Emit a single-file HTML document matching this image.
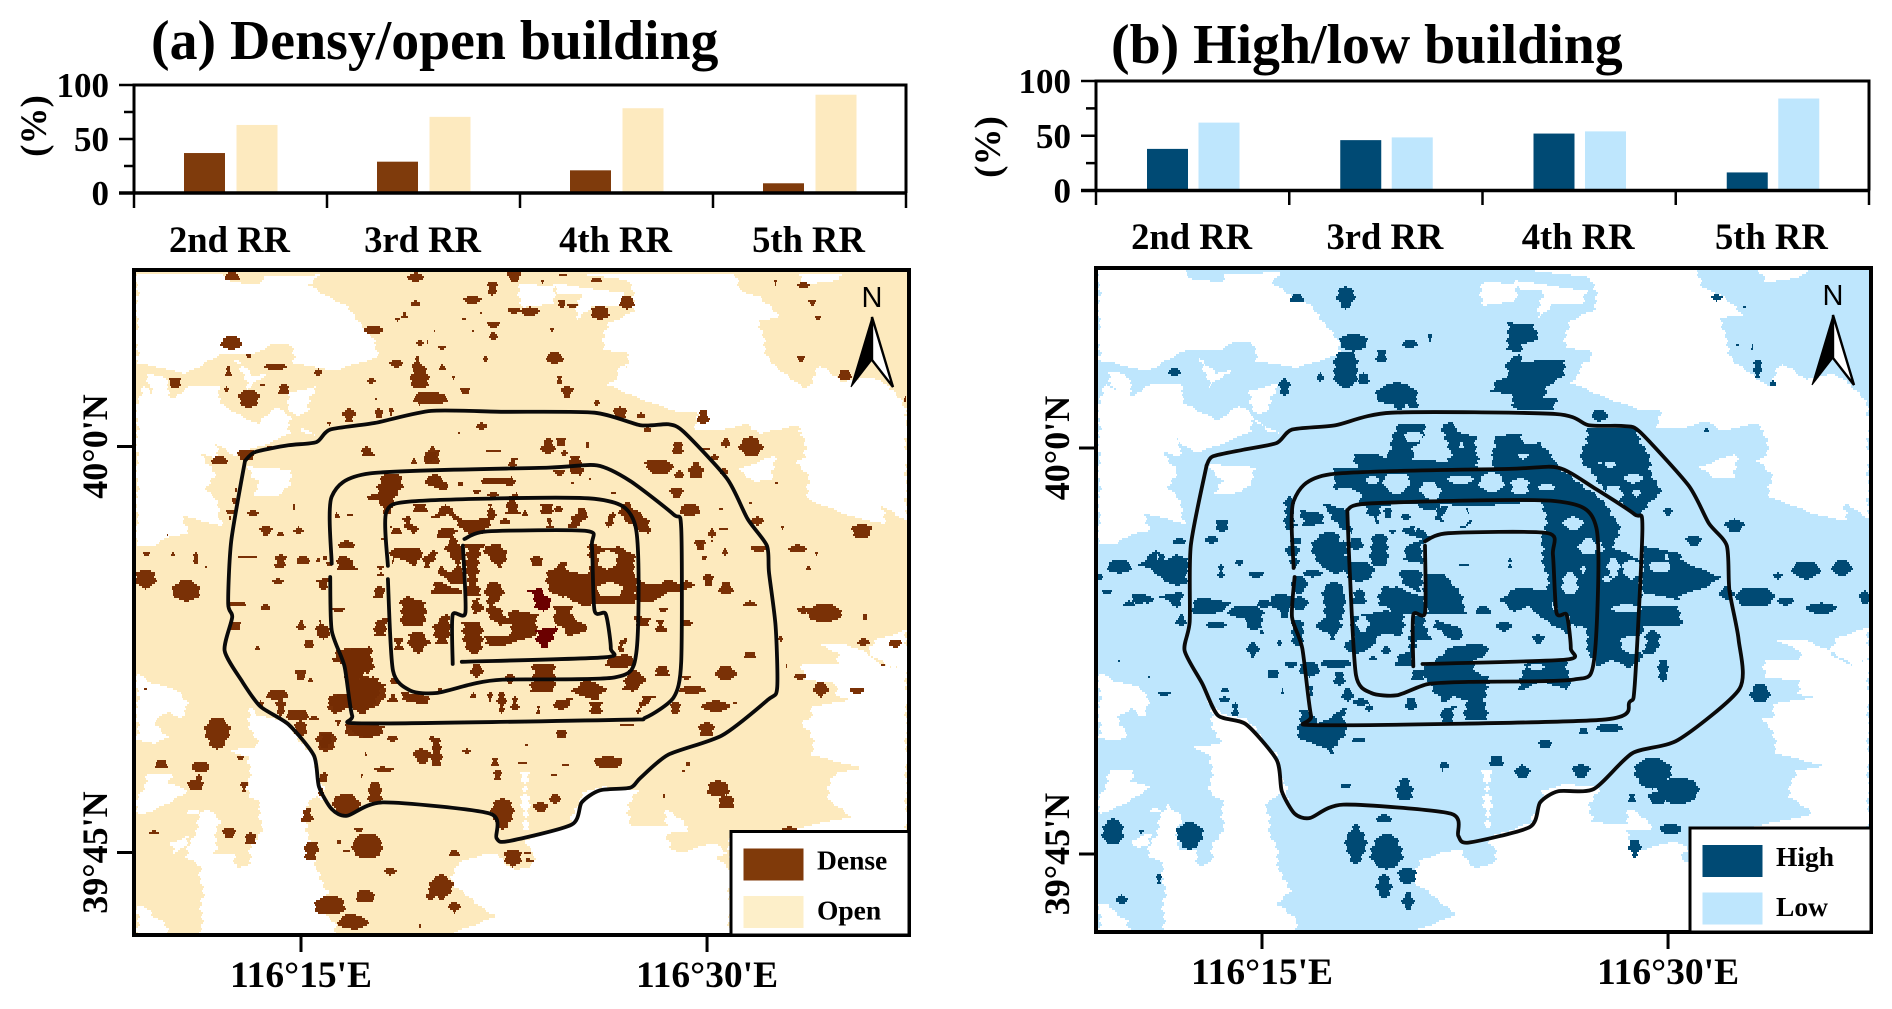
<!DOCTYPE html>
<html lang="en">
<head>
<meta charset="utf-8">
<title>Densy/open and high/low building</title>
<style>
html,body{margin:0;padding:0;background:#fff;}
#fig{display:block;width:1892px;height:1009px;}
text{font-family:"Liberation Serif",serif;font-weight:bold;fill:#000;}
.sans{font-family:"Liberation Sans",sans-serif;font-weight:normal;}
</style>
</head>
<body>
<svg id="fig" xmlns="http://www.w3.org/2000/svg" width="1892" height="1009" viewBox="0 0 1892 1009">
<defs>
<clipPath id="clip-a"><rect x="134" y="270" width="775" height="665"/></clipPath>
<clipPath id="clip-b"><rect x="1096" y="268" width="775" height="664"/></clipPath>
</defs>
<rect x="0" y="0" width="1892" height="1009" fill="#fff"/>
<text x="151" y="59" font-size="55.8">(a) Densy/open building</text>
<text x="1111" y="63" font-size="55.8">(b) High/low building</text>
<g id="layer-a-map" clip-path="url(#clip-a)"></g>
<g id="layer-b-map" clip-path="url(#clip-b)"></g>
<g id="layer-charts"></g>
<g id="layer-frames"></g>
</svg>
<script>
// ---------- bar chart data ----------
const categories = ["2nd RR", "3rd RR", "4th RR", "5th RR"];
const denseShare = [37, 29, 21, 9];
const openShare = [63, 70.5, 78.5, 91];
const highShare = [38, 46, 52, 16.5];
const lowShare = [62, 48.5, 54, 84];
const yTickValues = [0, 25, 50, 75, 100];
const yTickLabels = ["0", "", "50", "", "100"];
const mapLonTicks = [15, 30];
const mapLonLabels = ["116°15'E", "116°30'E"];
const mapLatTicks = [0, -15];
const mapLatLabels = ["40°0'N", "39°45'N"];

// ---------- map data in survey-sheet grid units ----------
const voidsNorthwest = [
 [8,10,265,10,280,35,380,45,395,20,550,15,525,45,630,105,700,180,740,260,600,300,480,280,470,225,410,225,370,250,270,250,210,280,150,310,50,285,8,280],
 [8,395,30,350,60,375,35,310,90,320,110,385,170,350,250,350,270,410,320,440,370,460,430,415,465,440,470,490,400,520,340,540,300,560,240,510,260,580,205,550,240,610,220,660,240,680,270,770,230,760,150,740,160,790,100,800,60,830,8,830],
 [280,250,360,320,400,310,340,360,320,280],
 [460,370,545,350,520,420,490,440,460,410],
 [340,590,480,600,470,640,430,675,360,680,380,640,350,620],
 [480,460,560,500,510,490]
];
const voidsNortheast = [
 [160,10,640,10,660,60,720,80,780,145,720,150,730,220,760,290,860,355,900,290,970,335,1050,320,1100,340,1160,420,1160,750,1090,710,1090,760,1000,740,860,690,870,630,830,580,860,560,840,470,810,470,720,490,680,460,600,480,530,480,530,425,480,430,400,400,260,345,330,290,320,250,250,240,260,160,345,125,340,90,330,30],
 [0,40,100,50,100,100,0,115],
 [100,40,320,70,300,110,210,110,170,150,180,70,110,70],
 [830,10,975,10,960,30,850,45],
 [650,600,760,560,760,630,700,635],
 [290,290,330,280,320,320,290,320]
];
const voidsSoutheast = [
 [1160,60,1120,90,1060,60,1050,40,970,10,890,10,950,40,955,70,850,70,850,120,945,130,955,170,1000,180,870,200,870,240,840,245,870,270,880,345,1025,385,940,400,920,480,1000,530,800,570,630,570,630,880,1160,880],
 [1160,-30,1060,0,1050,40,1120,90,1160,60],
 [350,450,320,520,330,555,440,560,440,510,480,540,515,575,440,580,450,630,480,640,580,610,620,640,590,650,630,685,630,880,-205,882,-75,828,-205,735,-190,668,-105,641,-67,640,-20,690,30,680,45,640,15,600,150,555,185,460,250,440],
 [6,395,22,395,26,570,10,570]
];
const voidsSouthwest = [
 [340,190,375,225,450,245,540,350,560,430,580,490,545,470,510,510,525,590,545,650,555,720,590,760,540,800,610,850,600,880,200,880,205,780,200,680,155,655,195,540,215,500,255,540,240,640,300,640,310,685,345,670,350,630,385,560,375,490,345,470,345,350,280,330,370,320,345,240],
 [10,530,60,510,170,450,105,430,110,400,45,400,10,480],
 [10,800,30,800,60,830,100,850,100,880,10,880],
 [10,100,50,130,130,150,165,185,140,235,105,210,60,240,100,290,60,310,10,300],
 [165,510,190,510,190,525,165,525],
 [105,610,160,590,160,620,120,640]
];
const densePatchesCore = [
 [185,70,245,70,245,105,225,140,225,170,200,195,170,150,135,155,140,140,175,130],
 [310,90,345,75,365,85,390,110,390,122,350,118,315,100],
 [487,85,585,80,580,108,525,100,490,100],
 [405,95,435,95,435,110,410,110],
 [270,160,325,165,320,185,285,185],
 [330,205,375,165,435,210,500,205,510,165,530,200,505,230,475,255,435,245,405,215,380,195,345,205],
 [555,155,590,125,600,195,560,190],
 [665,160,695,165,695,200,700,235,680,235,680,195,665,190],
 [745,230,785,165,805,190,780,220,760,235],
 [855,205,880,185,890,205,870,235,860,235],
 [895,165,925,155,980,210,1000,260,950,240,900,190],
 [245,205,270,195,280,225,300,240,280,250,250,225],
 [210,230,245,235,245,255,215,255],
 [350,255,375,230,410,240,395,262,360,265],
 [225,295,300,295,300,330,290,360,270,345,230,320,215,345,215,300],
 [310,320,340,300,360,310,330,340,320,355],
 [380,295,395,250,425,290,430,400,400,400,345,360,365,345,390,365,405,360,395,320],
 [435,280,495,280,470,345,480,440,440,440,440,340],
 [495,290,540,280,560,320,550,355,525,350,500,310],
 [338,400,360,395,395,410,420,415,420,430,370,435,340,430],
 [810,265,840,295,900,290,945,320,950,460,820,460,800,470,770,460,720,440,690,430,680,365,735,330,750,365,800,375,810,330],
 [950,385,1000,405,1025,400,1040,385,1075,400,1100,385,1130,405,1080,425,1030,430,1000,455,950,455],
 [490,420,520,395,555,420,545,450,530,470,560,510,580,480,650,495,655,550,620,565,585,575,530,590,500,580,500,560,570,555,570,520,535,530,510,500,505,470],
 [700,470,755,465,760,500,805,540,770,550,745,560,730,530,700,515],
 [425,515,475,515,495,535,485,555,480,610,445,610,435,565,425,545],
 [245,450,265,438,285,450,310,455,325,490,305,530,250,530,240,490],
 [270,550,305,545,325,575,295,615,270,590],
 [220,565,250,565,250,600,225,600],
 [160,520,205,500,200,560,160,560],
 [345,530,370,490,390,495,385,585,345,580],
 [450,450,480,445,490,480,465,490],
 [50,320,90,320,105,360,60,360],
 [170,345,190,350,190,380,175,375],
 [165,405,195,410,190,440,165,445],
 [-10,390,30,385,10,420],
 [0,510,30,550,10,570,-10,550],
 [30,630,70,600,150,590,165,650,130,670,110,690,160,680,195,705,180,730,130,800,90,770,45,790,25,740,80,730,80,650],
 [80,825,190,830,190,850,145,870,90,845],
 [220,685,235,700,215,710],
 [245,725,290,735,330,750,320,765,265,755],
 [210,735,230,735,225,755,210,755],
 [0,850,45,855,20,895,0,890],
 [335,860,360,870,365,900,335,900],
 [640,640,700,640,710,690,695,725,635,725,635,690],
 [750,720,800,690,865,715,830,750,770,735],
 [700,750,760,745,745,775,725,785,700,775],
 [815,755,840,755,840,790,815,790],
 [860,630,920,610,945,640,910,655,865,650],
 [905,720,935,655,970,680,970,700,945,725],
 [945,780,970,740,1005,740,975,770,955,790],
 [1020,645,1040,650,1040,680,1015,675],
 [1010,510,1030,510,1035,545,1015,545],
 [950,500,985,505,985,530,950,525],
 [885,590,920,560,910,615],
 [310,10,365,0,345,30,320,45],
 [125,0,155,0,155,20,135,15],
 [750,20,780,20,785,80,760,70],
 [565,40,585,25,585,50],
 [70,275,100,275,100,295,70,290],
 [555,215,12,10],[520,135,12,8],[470,125,8,6],[650,335,15,15],[880,128,7,5],[715,178,12,10],[615,190,5,8],[420,100,14,7],[90,195,10,5],[50,195,8,8],[55,480,15,5],[15,325,6,8],[470,665,15,22],[510,740,10,18],[545,760,10,35],[585,760,10,20],[655,780,8,15],[570,685,10,15],[360,715,6,12],[460,735,10,12],[1030,480,8,8],[1100,520,10,10],[1165,390,10,20],[1140,285,10,15],[1155,325,5,7],[725,850,14,12]
];
const openGapsCore = [[862,330,32,28],[870,418,35,22],[738,450,16,12],[790,345,14,14],[540,462,14,10]];
const redPatches = [
 [618,420,665,415,695,455,670,485,650,470,640,440],
 [650,540,710,530,705,565,675,595,645,575]
];
const densePatchesNorthwest = [
 [295,20,20,12],[845,22,25,15],[1075,58,15,22],[1015,92,25,12],[845,100,10,10],[812,135,11,12],[790,148,10,6],[718,180,25,15],[292,220,28,20],[345,256,7,7],[425,290,27,11],[553,307,13,12],[123,338,22,15],[283,305,12,15],[278,355,7,9],[345,385,33,28],[450,358,20,15],[386,345,5,6],[787,281,18,12],[857,320,28,35],[850,280,12,20],[925,233,11,8],[925,292,7,10],[959,325,7,8],[712,333,10,8],[993,363,12,11],[890,385,50,18],[857,388,15,20],[645,437,20,22],[735,430,10,17],[771,427,8,11],[726,394,6,10],[586,460,10,7],[1043,470,12,12],[697,544,16,16],[840,574,12,9],[895,557,22,28],[1078,542,15,5],[1135,580,7,15],[1140,20,18,15],[1078,165,20,10],[1077,200,8,14],[1140,122,18,9],[1040,130,4,4],[1018,187,7,6],[990,148,8,5],[858,220,8,8],[880,217,5,5],[901,182,6,3],[1055,265,4,10],[615,737,9,8],[647,737,8,3],[257,570,27,12],[337,555,22,18],[406,530,8,5],[305,660,3,4],[300,692,6,8],[292,725,10,8],[288,745,3,5],[357,727,10,10],[396,782,13,14],[440,790,10,8],[497,775,6,4],[638,823,20,11],[343,861,22,5],[432,884,15,8],[507,871,18,11],[553,868,12,6],[38,851,11,8],[116,854,7,6],[185,865,5,18],[215,889,4,4],[585,880,8,6],[100,797,4,3],[480,710,3,8],[975,488,4,4],[1150,492,7,3],[805,564,7,3],[745,808,5,5]
];
const densePatchesNortheast = [
 [130,14,12,5],[68,35,12,5],[230,30,18,5],[125,100,14,12],[157,107,10,8],[30,125,30,15],[240,130,25,20],[320,100,22,20],[96,178,6,6],[104,265,22,17],[118,330,10,15],[141,367,15,18],[230,397,5,10],[300,428,17,18],[363,437,14,10],[383,477,13,10],[550,443,20,22],[767,37,9,9],[850,47,12,10],[877,99,9,11],[893,145,10,8],[843,265,9,10],[975,316,17,15],[1155,385,6,10],[1025,785,30,22],[693,530,30,30],[617,519,15,13],[557,538,8,5],[585,563,8,10],[612,603,10,10],[473,535,20,18],[420,590,42,22],[390,578,10,8],[528,600,22,25],[477,615,14,14],[470,668,22,16],[510,720,35,17],[522,654,4,3],[603,716,6,4],[692,698,5,3],[712,752,14,14],[788,774,5,5],[833,835,25,12],[717,837,25,10],[890,850,3,6],[541,826,12,17],[553,865,5,8],[615,845,9,12],[576,796,8,20],[610,775,25,3],[770,640,12,3],[85,528,18,24],[122,516,12,14],[133,550,6,8],[202,526,6,8],[165,585,18,30],[118,608,12,10],[157,638,3,5],[210,626,5,4],[280,668,6,5],[865,895,12,5]
];
const densePatchesSoutheast = [
 [690,45,23,12],[618,98,32,22],[425,92,13,17],[500,112,9,7],[517,148,40,12],[588,198,40,17],[466,205,17,17],[560,268,26,23],[645,190,8,5],[800,80,7,6],[840,112,14,12],[902,150,19,22],[1012,152,24,9],[1032,5,18,12],[1122,13,16,8],[1090,75,7,6],[125,282,13,13],[320,255,20,4],[265,367,40,17],[137,376,10,4],[7,369,8,5],[102,405,5,6],[105,478,14,18],[62,502,16,16],[20,315,8,6],[432,467,10,7],[505,373,4,6],[490,392,3,4],[595,445,30,25],[620,485,22,22],[808,568,18,8],[22,640,12,5],[30,663,10,6],[258,541,2,2]
];
const densePatchesMiddle = [
 [50,715,18,22],[130,740,25,25],[150,665,3,10],[250,665,15,4],[230,770,15,5],[285,778,15,6],[315,675,12,15],[360,672,12,7],[285,608,7,10],[350,605,7,7],[310,720,6,6],[225,820,10,10],[355,818,10,10],
 [1188,735,12,15],[1235,770,10,7],[1380,790,35,20],[1340,785,8,8],[1400,795,15,12],[1460,800,5,8],[1455,855,12,8],[1520,860,10,8],[1295,850,5,8],
 [620,1105,10,30],[590,1110,15,15],[680,1100,8,5],[735,1125,10,10],[740,1155,10,12],[515,1140,15,5],[400,1155,8,8],[500,1195,15,25],[440,1220,25,22],[750,1240,20,35],[405,1080,18,22],[370,1325,10,20],[365,1245,8,15],[485,1310,25,25],[630,1405,20,28],[655,1450,10,13],[770,1340,15,20],[800,1345,5,5],[655,1328,8,8],[530,1370,7,8],[410,1445,30,22],[480,1425,15,15],[460,1485,25,15]
];
const densePatchesSouthwest = [
 [250,280,35,48],[82,372,20,13],[185,435,20,18],[200,380,28,14],[195,410,8,22],[330,440,13,15],[320,355,8,8],[285,578,15,15],[350,595,18,20],[60,578,7,6],[370,25,7,8],[525,10,20,12],[500,105,14,15],[530,122,9,6],[35,143,8,8],[430,165,35,15],[440,210,12,30],[490,225,30,18],[500,265,15,25],[380,188,10,10],[540,235,15,8],[603,190,22,30],[575,305,28,32],[612,248,6,10],[690,270,55,22],[700,165,55,40],[650,45,50,20],[700,85,20,15],[695,122,25,12],[780,125,12,10],[778,173,10,12],[845,175,40,14],[775,295,12,10],[865,350,22,22],[750,390,25,8],[722,460,20,32],[683,407,8,8],[640,492,38,30],[523,525,13,22],[537,632,17,28],[700,618,45,36],[675,570,15,8],[615,605,6,7],[637,633,14,5],[767,695,12,14],[697,768,22,20],[590,795,45,30],[650,845,38,22],[857,858,8,8],[565,415,9,12],[562,455,8,12],[890,760,10,20],[695,340,6,6]
];
const ring5A = [245,450,265,430,330,415,385,408,412,380,500,365,610,338,750,340,930,342,1020,370,1075,368,1105,385,1190,490,1230,580,1268,640,1272,700,1285,820,1288,960,1270,985,1180,1065,1075,1108,1020,1160,1000,1182,940,1188,905,1215,885,1265,760,1302,738,1295,725,1240,515,1215,445,1245,415,1230,390,1180,380,1110,330,1040,275,1000,240,945,205,875,220,800,212,770,218,630,245,450];
const ring4A = [415,680,415,530,490,478,840,465,935,460,1000,495,1085,570,1100,600,1100,900,1085,980,1030,1025,980,1030,480,1038,455,1020,440,910,415,830,412,710];
const ring3A = [525,685,522,565,580,540,930,535,1010,595,1012,880,970,935,750,940,690,950,620,970,570,965,535,920,525,715];
const ring2A = [675,625,720,608,915,607,925,640,930,785,952,793,962,870,950,890,670,900];
const ring2AWest = [652,905,652,795,677,790,672,640];

const highPatchesCore = [
 [160,205,230,205,225,165,295,165,330,180,330,120,365,70,430,75,430,120,395,150,395,180,500,185,520,170,495,125,490,75,520,60,525,95,590,110,590,200,640,210,640,110,720,100,735,135,785,125,825,190,835,215,830,300,590,320,430,310,240,320,170,280],
 [825,200,945,280,1020,370,1000,440,1080,480,1080,620,1200,620,1200,680,1090,680,1080,780,1050,810,1000,780,950,800,900,700,860,640,830,640,810,590,780,420,800,400,790,310],
 [930,85,1060,85,1100,150,1110,200,1140,280,1075,350,1020,310,960,250,910,190,905,150],
 [660,600,720,560,770,570,820,570,825,640,860,650,870,710,830,680,770,640,740,620,700,640],
 [450,790,520,740,590,730,630,780,630,850,560,900,460,870,420,820],
 [730,790,860,780,870,830,860,870,790,840,720,870],
 [1090,440,1200,460,1200,600,1090,580],
 [130,310,200,330,215,400,170,370],
 [350,390,400,380,440,420,400,410],
 [1150,810,14,30],[1055,700,12,30],[1105,750,18,15],[690,490,8,14],[672,680,18,14],[610,632,20,12],[775,718,20,14],[550,495,8,5],[960,45,18,18],[740,15,40,15],[810,15,15,15],[360,15,14,10],[400,10,18,15]
];
const lowGapsCore = [[195,295,50,30],[350,250,40,30],[460,280,20,20],[540,240,35,15],[635,245,35,30],[720,260,30,25],[800,260,20,10],[1000,280,30,25],[530,350,40,30],[1000,505,15,30],[925,440,25,25],[870,550,25,35],[910,510,10,10],[1055,510,25,30],[1060,735,35,30],[900,720,25,40],[1040,625,40,12],[400,110,30,15],[545,135,12,10],[730,170,15,10],[1060,235,30,15],[1070,280,15,12],[990,195,10,10],[960,190,10,5],[750,360,35,25],[640,340,25,20],[880,370,25,20],[1140,500,30,15],[1160,470,5,10],[620,800,40,30],[770,800,20,10],[980,540,15,10],[960,440,10,15]
];
const highPatchesWest = [
 [125,285,180,240,215,270,240,250,280,270,280,300,265,310,270,340,240,350,200,325,170,300],
 [195,380,255,365,255,400,245,425,225,400],
 [290,435,300,380,340,385,405,400,370,425,340,435],
 [770,440,870,420,920,430,920,500,860,490,830,530,780,550,740,530,770,500],
 [860,370,900,350,985,380,985,430,890,430],
 [920,230,980,210,980,280,930,270],
 [910,300,975,300,975,370,930,350],
 [985,310,1050,310,1090,370,1115,430,1030,430,990,430],
 [950,440,985,440,1000,510,960,510,950,590,905,590,900,560,940,540],
 [1020,450,1100,480,1100,510,1060,510,1020,470],
 [1000,590,1060,530,1090,550,1070,620,1000,620],
 [720,0,950,0,945,70,920,90,850,70,800,70,740,60],
 [950,0,1170,0,1170,90,950,90],
 [815,100,850,110,850,170,815,130],
 [690,100,750,150,750,190,700,130],
 [610,120,680,130,690,160,620,170],
 [960,170,1010,200,985,215,965,195],
 [1010,660,1090,640,1095,670,1040,700],
 [1030,720,1075,710,1075,755,1035,755],
 [1105,650,1170,650,1170,750,1110,750],
 [610,720,650,725,670,760,750,710,745,790,710,850,650,820,610,810],
 [70,290,32,20],[10,322,8,10],[33,366,12,7],[100,400,15,10],[130,385,20,15],[155,388,20,12],[256,450,14,16],[250,212,22,10],[347,208,13,13],[378,167,15,18],[430,278,9,9],[375,303,11,20],[480,315,18,12],[450,425,50,20],[475,450,25,28],[360,465,30,12],[504,400,17,13],[497,487,15,5],[550,518,8,10],[470,540,14,22],[585,585,13,12],[532,612,15,12],[387,660,9,9],[386,688,12,8],[418,718,12,20],[560,663,8,8],[205,671,15,7],[70,572,6,3],[158,620,4,3],
 [580,130,15,50],[595,165,10,5],[590,240,20,20],[600,215,15,10],[595,280,10,15],[610,345,25,25],[650,310,30,12],[555,395,30,25],[610,400,30,20],[565,430,15,15],[605,490,20,40],[640,600,28,22],[645,665,10,15],[720,580,45,12],[730,625,12,22],[755,675,12,20],[795,695,22,12],[820,715,12,12],[715,395,35,60],[700,465,40,22],[710,490,15,20],[700,240,50,55],[720,280,40,30],[780,220,18,18],[790,305,45,30],[790,380,20,25],[850,240,28,50],[870,380,25,30],[965,615,18,18],[870,540,14,14],[1150,540,22,20],[945,705,15,20],[830,565,10,5],[890,185,14,8],[875,130,14,14],[930,143,10,10],[1000,110,30,10],[1045,130,25,25],[1100,130,20,15],[1100,155,20,20],[793,812,12,7],[1045,885,10,12],[1105,285,8,5]
];
const lowGapsWest = [[185,262,3,8],[735,210,10,8],[1000,60,25,25],[1090,30,30,15],[830,30,25,10],[900,40,40,25],[750,370,12,12],[800,460,15,25]];
const highPatchesOuter = [
 [815,140,870,145,875,175,845,190,845,230,880,225,925,225,925,260,895,285,885,310,910,310,905,335,835,335,825,300,785,295,790,270,820,260,815,230,835,210,815,200,820,170],
 [1090,640,1130,660,1165,680,1235,710,1210,730,1140,755,1080,740],
 [405,85,15,10],[500,85,15,25],[515,185,25,20],[500,245,25,40],[570,215,12,15],[535,265,10,12],[625,187,12,10],[665,175,7,8],[600,300,40,25],[605,325,10,10],[450,265,5,12],[380,285,8,22],[165,250,8,10],[1305,245,10,20],[1335,275,7,8],[1225,85,7,7],[1280,105,3,3],[1295,195,5,5],[1265,190,3,3],[1205,380,7,5],[995,348,13,13],
 [1180,630,12,12],[1300,755,40,22],[1245,745,12,15],[1345,708,8,7],[1400,695,25,20],[1470,690,22,17],[1360,765,12,10],[1430,780,28,12],[1515,755,8,15],[1260,595,15,15],[1120,920,10,25],[1130,565,10,10],[1100,855,15,25],[1310,970,20,20],[1100,800,50,15],
 [525,1075,10,5],[1015,1048,25,10],[965,1055,8,8],[890,1085,12,10],[795,1122,12,12],[845,1145,15,15],[960,1145,15,15],[690,1135,5,12],[615,1185,15,25],[500,1178,6,6],[1100,1150,35,35],[1150,1190,40,30],[1110,1205,15,15],[1060,1205,10,10],[1135,1275,20,10],[1065,1318,10,20],
 [575,1250,15,10],[520,1310,18,45],[580,1325,30,40],[620,1380,15,20],[575,1400,12,30],[622,1435,8,20],[195,1290,25,30],[45,1280,22,28],[135,1385,6,12],[62,1432,8,12],[100,1280,4,4]
];
const ring5B = [228,460,240,440,300,425,365,410,395,380,480,370,590,342,910,345,975,370,1045,372,1075,385,1170,505,1210,590,1245,640,1250,740,1268,850,1270,960,1150,1075,1060,1105,985,1185,915,1190,880,1215,860,1270,740,1305,720,1290,705,1240,495,1220,430,1250,400,1240,375,1190,365,1120,305,1040,250,1020,220,950,185,875,195,810,197,640,228,460];
const ring4B = [398,690,398,540,470,480,820,468,915,465,985,510,1065,570,1080,600,1065,950,1055,990,1000,1030,450,1042,432,1020,415,870,395,800,400,710];
const ring3B = [503,560,550,545,910,540,990,600,985,900,945,940,740,945,660,950,600,975,550,970,520,930,508,700,503,560];
const ring2B = [655,630,700,612,895,612,905,660,912,790,932,795,940,870,930,895,650,905];
const ring2BWest = [632,910,632,795,655,790,655,640];

// ---------- helpers ----------
const NS = 'http://www.w3.org/2000/svg';
const layerA = document.getElementById('layer-a-map');
const layerB = document.getElementById('layer-b-map');
const layerCharts = document.getElementById('layer-charts');
const layerFrames = document.getElementById('layer-frames');

function node(parent, tag, props, txt) {
  const el = document.createElementNS(NS, tag);
  for (const k in props) el.setAttribute(k, props[k]);
  if (txt !== undefined) el.textContent = txt;
  parent.appendChild(el);
  return el;
}
function sheet(ox, oy, sx, sy) {
  return { x: u => ox + u / sx, y: v => oy + v / sy, sx: sx, sy: sy };
}
// Edge roughness only: gives patch outlines the stepped look of a classified raster.
function rough(y, seed, amp) {
  return (Math.sin(y * 0.73 + seed * 1.9) + Math.sin(y * 0.21 + seed * 3.1)) * amp;
}
const ROW = 2;
function rowsFromEllipse(d, f, amp, seed) {
  const cx = f.x(d[0]), cy = f.y(d[1]), rx = d[2] / f.sx, ry = d[3] / f.sy;
  let s = '';
  const top = Math.floor((cy - ry) / ROW) * ROW, bot = Math.ceil((cy + ry) / ROW) * ROW;
  for (let y = top; y < bot; y += ROW) {
    const t = (y + ROW / 2 - cy) / ry;
    if (Math.abs(t) >= 1) continue;
    const h = rx * Math.sqrt(1 - t * t);
    const k = Math.min(amp, h * 0.5);
    const a = Math.round(cx - h + rough(y, seed, k));
    const b = Math.round(cx + h + rough(y, seed + 5, k));
    if (b > a) s += 'M' + a + ' ' + y + 'H' + b + 'V' + (y + ROW) + 'H' + a + 'Z';
  }
  return s;
}
function rowsFromPolygon(d, f, amp, seed) {
  const xs = [], ys = [];
  for (let i = 0; i + 1 < d.length; i += 2) { xs.push(f.x(d[i])); ys.push(f.y(d[i + 1])); }
  const top = Math.floor(Math.min.apply(null, ys) / ROW) * ROW, bot = Math.ceil(Math.max.apply(null, ys) / ROW) * ROW;
  let s = '';
  for (let y = top; y < bot; y += ROW) {
    const yc = y + ROW / 2, hits = [];
    for (let i = 0; i < xs.length; i++) {
      const j = (i + 1) % xs.length;
      if ((ys[i] <= yc) !== (ys[j] <= yc)) hits.push(xs[i] + (yc - ys[i]) / (ys[j] - ys[i]) * (xs[j] - xs[i]));
    }
    hits.sort((p, q) => p - q);
    for (let h = 0; h + 1 < hits.length; h += 2) {
      const a = Math.round(hits[h] + rough(y, seed + h, amp));
      const b = Math.round(hits[h + 1] + rough(y, seed + h + 5, amp));
      if (b > a) s += 'M' + a + ' ' + y + 'H' + b + 'V' + (y + ROW) + 'H' + a + 'Z';
    }
  }
  return s;
}
function drawPatches(parent, list, f, color, name) {
  list.forEach((d, i) => {
    const path = d.length === 4 ? rowsFromEllipse(d, f, 1.4, i + 1) : rowsFromPolygon(d, f, 1.6, i + 1);
    const el = node(parent, 'path', { d: path, fill: color, 'shape-rendering': 'crispEdges' });
    
    
  });
}
function drawRing(parent, flat, f, name, width) {
  const pts = [];
  for (let i = 0; i + 1 < flat.length; i += 2) pts.push([f.x(flat[i]), f.y(flat[i + 1])]);
  let d = 'M' + pts[0][0].toFixed(1) + ' ' + pts[0][1].toFixed(1);
  for (let i = 0; i < pts.length - 1; i++) {
    const p0 = pts[Math.max(0, i - 1)], p1 = pts[i], p2 = pts[i + 1], p3 = pts[Math.min(pts.length - 1, i + 2)];
    const k = 0.12;
    d += 'C' + (p1[0] + (p2[0] - p0[0]) * k).toFixed(1) + ' ' + (p1[1] + (p2[1] - p0[1]) * k).toFixed(1) + ' ' +
         (p2[0] - (p3[0] - p1[0]) * k).toFixed(1) + ' ' + (p2[1] - (p3[1] - p1[1]) * k).toFixed(1) + ' ' +
         p2[0].toFixed(1) + ' ' + p2[1].toFixed(1);
  }
  const el = node(parent, 'path', { d: d, fill: 'none', stroke: '#0a0a0a', 'stroke-width': width, 'stroke-linejoin': 'round', 'stroke-linecap': 'round' });
  
  
}

// ---------- bar charts ----------
function drawChart(cfg) {
  const yScale = v => cfg.y0 + (cfg.y100 - cfg.y0) * v / 100;
  const band = (cfg.x1 - cfg.x0) / categories.length;
  const bandX = i => cfg.x0 + band * i;
  const g = node(layerCharts, 'g', {});
  
  
  categories.forEach((c, i) => {
    const a = cfg.first[i], b = cfg.second[i];
    const r1 = node(g, 'rect', { x: bandX(i) + cfg.off1, y: yScale(a), width: 41, height: yScale(0) - yScale(a), fill: cfg.color1 });
    
    
    const r2 = node(g, 'rect', { x: bandX(i) + cfg.off2, y: yScale(b), width: 41, height: yScale(0) - yScale(b), fill: cfg.color2 });
    
    
    const t = node(g, 'text', { x: bandX(i) + band / 2 - 1, y: cfg.labelY, 'font-size': 36.6, 'text-anchor': 'middle' }, c);
    
    
  });
  for (let i = 0; i <= categories.length; i++) {
    const tk = node(g, 'line', { x1: bandX(i), x2: bandX(i), y1: yScale(0), y2: cfg.tickEnd, stroke: '#000', 'stroke-width': 2.5 });
    
    
  }
  yTickValues.forEach((v, i) => {
    const major = yTickLabels[i] !== '';
    const tk = node(g, 'line', { x1: cfg.x0 - (major ? 15 : 10), x2: cfg.x0, y1: yScale(v), y2: yScale(v), stroke: '#000', 'stroke-width': 2.5 });
    
    
    if (major) {
      const t = node(g, 'text', { x: cfg.x0 - 25, y: yScale(v) + 12, 'font-size': 35, 'text-anchor': 'end' }, yTickLabels[i]);
      
      
    }
  });
  const frame = node(g, 'polyline', { points: [cfg.x0, cfg.y0, cfg.x0, cfg.y100, cfg.x1, cfg.y100, cfg.x1, cfg.y0].join(' '), fill: 'none', stroke: '#000', 'stroke-width': 3 });
  
  
  const base = node(g, 'line', { x1: cfg.x0 - 15, x2: cfg.x1 + 1, y1: yScale(0), y2: yScale(0), stroke: '#000', 'stroke-width': 3.5 });
  
  
  const yt = node(g, 'text', { x: 0, y: 0, 'font-size': 37, 'text-anchor': 'middle', transform: 'translate(' + cfg.yTitleX + ',' + cfg.yTitleY + ') rotate(-90)' }, '(%)');
  
  
}
drawChart({ name: 'panel-a', name1: 'dense', name2: 'open', first: denseShare, second: openShare, color1: '#7f3b0c', color2: '#fdeabf', x0: 134, x1: 906, y0: 193, y100: 85, tickEnd: 208, off1: 50, off2: 102.5, labelY: 252, yTitleX: 46, yTitleY: 126 });
drawChart({ name: 'panel-b', name1: 'high', name2: 'low', first: highShare, second: lowShare, color1: '#004a74', color2: '#bee6fd', x0: 1096, x1: 1869, y0: 190.5, y100: 81, tickEnd: 205, off1: 51, off2: 102.5, labelY: 249, yTitleX: 1000, yTitleY: 147 });

// ---------- maps ----------
const frameA3 = sheet(120, 260, 1.96, 2.24);
const frameACore = sheet(320, 450, 3, 3);
const frameANW = sheet(134, 270, 3, 3);
const frameANE = sheet(520, 270, 3, 3);
const frameASE = sheet(520, 640, 3, 3);
const frameASW = sheet(134, 640, 3, 3);
const frameB4 = sheet(1090, 260, 1.955, 2.24);
const frameBCore = sheet(1280, 400, 3, 3);
const frameBWest = sheet(1096, 470, 3, 3);
const frameBNW = sheet(1096, 267.5, 3, 3);
const frameBNE = sheet(1482, 267.5, 3, 3);
const frameBSE = sheet(1482, 637.5, 3, 3);
const frameBSW = sheet(1096, 637.5, 3, 3);

const landA = node(layerA, 'rect', { x: 134, y: 270, width: 775, height: 665, fill: '#fdeabe' });


drawPatches(layerA, voidsNorthwest, frameANW, '#ffffff', 'non-built-area');
drawPatches(layerA, voidsNortheast, frameANE, '#ffffff', 'non-built-area');
drawPatches(layerA, voidsSoutheast, frameASE, '#ffffff', 'non-built-area');
drawPatches(layerA, voidsSouthwest, frameASW, '#ffffff', 'non-built-area');
drawPatches(layerA, densePatchesNorthwest, frameANW, '#7a3106', 'dense-patch');
drawPatches(layerA, densePatchesNortheast, frameANE, '#7a3106', 'dense-patch');
drawPatches(layerA, densePatchesSoutheast, frameASE, '#7a3106', 'dense-patch');
drawPatches(layerA, densePatchesSouthwest, frameASW, '#7a3106', 'dense-patch');
drawPatches(layerA, densePatchesMiddle, frameA3, '#7a3106', 'dense-patch');
drawPatches(layerA, densePatchesCore, frameACore, '#742c03', 'dense-patch');
drawPatches(layerA, openGapsCore, frameACore, '#fdeabe', 'open-gap');
drawPatches(layerA, redPatches, frameACore, '#6b0000', 'core-patch');
drawRing(layerA, ring5A, frameA3, 'fifth-ring-road', 3.8);
drawRing(layerA, ring4A, frameA3, 'fourth-ring-road', 3.8);
drawRing(layerA, ring3A, frameA3, 'third-ring-road', 3.8);
drawRing(layerA, ring2A, frameA3, 'second-ring-road', 3.8);
drawRing(layerA, ring2AWest, frameA3, 'second-ring-road-west', 3.8);

const landB = node(layerB, 'rect', { x: 1096, y: 268, width: 775, height: 664, fill: '#bee6fd' });


drawPatches(layerB, voidsNorthwest, frameBNW, '#ffffff', 'non-built-area');
drawPatches(layerB, voidsNortheast, frameBNE, '#ffffff', 'non-built-area');
drawPatches(layerB, voidsSoutheast, frameBSE, '#ffffff', 'non-built-area');
drawPatches(layerB, voidsSouthwest, frameBSW, '#ffffff', 'non-built-area');
drawPatches(layerB, highPatchesOuter, frameB4, '#004a74', 'high-patch');
drawPatches(layerB, highPatchesWest, frameBWest, '#004a74', 'high-patch');
drawPatches(layerB, highPatchesCore, frameBCore, '#004a74', 'high-patch');
drawPatches(layerB, lowGapsCore, frameBCore, '#bee6fd', 'low-gap');
drawPatches(layerB, lowGapsWest, frameBWest, '#bee6fd', 'low-gap');
drawRing(layerB, ring5B, frameB4, 'fifth-ring-road', 3.8);
drawRing(layerB, ring4B, frameB4, 'fourth-ring-road', 3.8);
drawRing(layerB, ring3B, frameB4, 'third-ring-road', 3.8);
drawRing(layerB, ring2B, frameB4, 'second-ring-road', 3.8);
drawRing(layerB, ring2BWest, frameB4, 'second-ring-road-west', 3.8);

// ---------- map frames, axes, legends, north arrows ----------
function drawMapFrame(cfg) {
  const lonX = m => cfg.lon15 + (m - 15) * cfg.perMin;
  const latY = m => cfg.lat0 - m * cfg.perMin;
  const g = node(layerFrames, 'g', {});
  
  
  const box = node(g, 'rect', { x: cfg.x0, y: cfg.y0, width: cfg.x1 - cfg.x0, height: cfg.y1 - cfg.y0, fill: 'none', stroke: '#000', 'stroke-width': 4 });
  
  
  mapLonTicks.forEach((m, i) => {
    const tk = node(g, 'line', { x1: lonX(m), x2: lonX(m), y1: cfg.y1, y2: cfg.y1 + 17, stroke: '#000', 'stroke-width': 3 });
    
    
    const t = node(g, 'text', { x: lonX(m), y: cfg.lonLabelY, 'font-size': 37.5, 'text-anchor': 'middle' }, mapLonLabels[i]);
    
    
  });
  mapLatTicks.forEach((m, i) => {
    const tk = node(g, 'line', { x1: cfg.x0 - 17, x2: cfg.x0, y1: latY(m), y2: latY(m), stroke: '#000', 'stroke-width': 3 });
    
    
    const t = node(g, 'text', { x: 0, y: 0, 'font-size': 36, 'text-anchor': 'middle', transform: 'translate(' + cfg.latLabelX + ',' + latY(m) + ') rotate(-90)' }, mapLatLabels[i]);
    
    
  });
  // north arrow
  const ax = cfg.arrowX, ay = cfg.arrowY;
  const n = node(g, 'text', { x: ax, y: ay - 10, 'font-size': 29, 'text-anchor': 'middle', class: 'sans' }, 'N');
  
  
  const aw = node(g, 'polygon', { points: [ax, ay, ax + 21, ay + 70, ax, ay + 43].join(' '), fill: '#fff', stroke: '#000', 'stroke-width': 2.4 });
  
  
  const ak = node(g, 'polygon', { points: [ax, ay, ax - 21, ay + 70, ax, ay + 43].join(' '), fill: '#000', stroke: '#000', 'stroke-width': 1 });
  
  
  // legend
  const lb = node(g, 'rect', { x: cfg.legX, y: cfg.legY, width: cfg.x1 - cfg.legX, height: cfg.y1 - cfg.legY, fill: '#fff', stroke: '#000', 'stroke-width': 3 });
  
  
  const s1 = node(g, 'rect', { x: cfg.legX + 12.5, y: cfg.legY + 17, width: 60, height: 32, fill: cfg.color1 });
  
  
  const s2 = node(g, 'rect', { x: cfg.legX + 12.5, y: cfg.legY + 64.5, width: 60, height: 32, fill: cfg.color2 });
  
  
  const t1 = node(g, 'text', { x: cfg.legX + 86, y: cfg.legY + 38, 'font-size': 27.5 }, cfg.label1);
  
  
  const t2 = node(g, 'text', { x: cfg.legX + 86, y: cfg.legY + 88, 'font-size': 27.5 }, cfg.label2);
  
  
}
drawMapFrame({ name: 'panel-a', x0: 134, x1: 909, y0: 270, y1: 935, lon15: 301, lat0: 446.5, perMin: 27.07, lonLabelY: 987, latLabelX: 107, arrowX: 872, arrowY: 317, legX: 731, legY: 831.5, color1: '#803a0a', color2: '#fdefc9', label1: 'Dense', label2: 'Open' });
drawMapFrame({ name: 'panel-b', x0: 1096, x1: 1871, y0: 268, y1: 932, lon15: 1262, lat0: 448, perMin: 27.07, lonLabelY: 984, latLabelX: 1069, arrowX: 1833, arrowY: 315, legX: 1690, legY: 828, color1: '#004a74', color2: '#bee6fd', label1: 'High', label2: 'Low' });
</script>
</body>
</html>
